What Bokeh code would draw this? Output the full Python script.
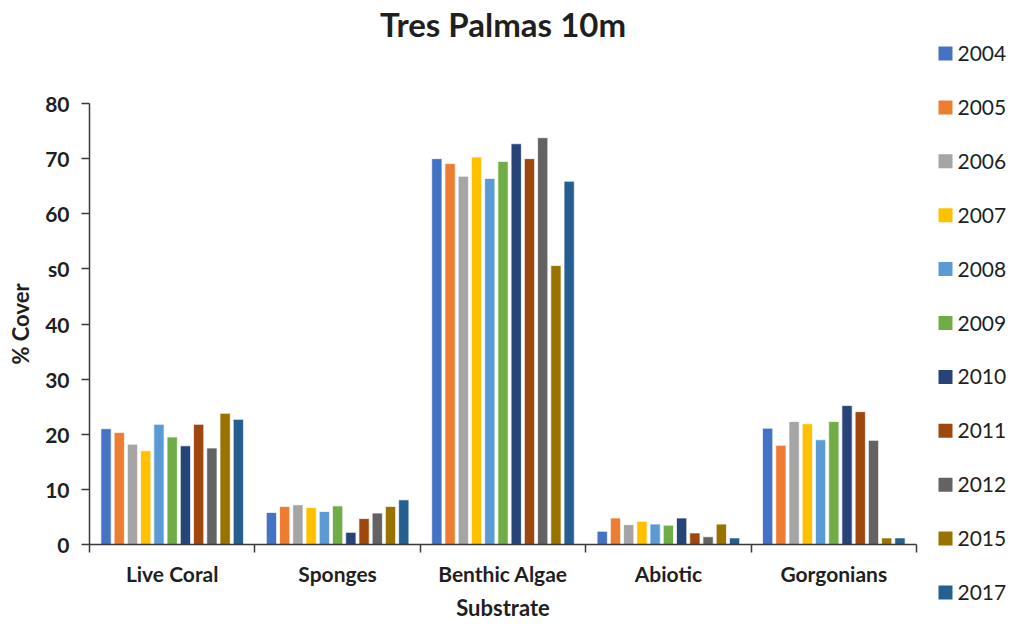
from bokeh.plotting import figure
from bokeh.models import Range1d, FixedTicker, ColumnDataSource, LinearAxis
from bokeh.layouts import row
from bokeh.embed import file_html
from bokeh.resources import INLINE
from bokeh.core.properties import value

categories = ["Live Coral", "Sponges", "Benthic Algae", "Abiotic", "Gorgonians"]
years = ["2004", "2005", "2006", "2007", "2008", "2009", "2010", "2011", "2012", "2015", "2017"]
colors = ["#4472C4", "#ED7D31", "#A5A5A5", "#FFC000", "#5B9BD5", "#70AD47",
          "#264478", "#9E480E", "#636363", "#997300", "#255E91"]
y_ticks = [0, 10, 20, 30, 40, 50, 60, 70, 80]
y_tick_labels = ["0", "10", "20", "30", "40", "s0", "60", "70", "80"]

v2004 = [21.0, 5.8, 70.0, 2.4, 21.1]
v2005 = [20.3, 6.9, 69.1, 4.8, 18.0]
v2006 = [18.2, 7.2, 66.8, 3.6, 22.3]
v2007 = [17.0, 6.7, 70.3, 4.2, 21.9]
v2008 = [21.8, 6.0, 66.4, 3.7, 19.0]
v2009 = [19.5, 7.0, 69.5, 3.5, 22.3]
v2010 = [17.9, 2.2, 72.7, 4.8, 25.2]
v2011 = [21.8, 4.7, 70.0, 2.1, 24.1]
v2012 = [17.5, 5.7, 73.8, 1.4, 18.9]
v2015 = [23.8, 6.9, 50.6, 3.7, 1.2]
v2017 = [22.7, 8.1, 65.9, 1.2, 1.2]
series = [v2004, v2005, v2006, v2007, v2008, v2009, v2010, v2011, v2012, v2015, v2017]

FONT = "Lato"
TXT = "#1f1f1f"
AX = "#3a3a3a"

n_cat = len(categories)
n_ser = len(series)
pitch = 0.08
bar_w = 0.062
H = 623

p = figure(width=918, height=H, x_range=Range1d(-0.5, n_cat - 0.5), y_range=Range1d(0, 80),
           output_backend="svg", toolbar_location=None,
           min_border_left=89, min_border_right=2, min_border_top=101, min_border_bottom=70)

xax = p.xaxis[0]
yax = p.yaxis[0]

for j, (yr, col, vals) in enumerate(zip(years, colors, series)):
    xs = [i + (j - (n_ser - 1) / 2) * pitch for i in range(n_cat)]
    src = ColumnDataSource(dict(x=xs, top=vals))
    p.vbar(x="x", top="top", bottom=0, width=bar_w, source=src,
           fill_color=col, line_color="white", line_width=1, line_alpha=0.7)

p.xgrid.visible = False
p.ygrid.visible = False
p.outline_line_color = None

# chart title, drawn as the label of a bare axis above the frame
title_axis = LinearAxis(ticker=FixedTicker(ticks=[]), axis_label="Tres Palmas 10m",
                        axis_line_color=None, major_tick_line_color=None, minor_tick_line_color=None,
                        major_tick_out=0, major_tick_in=0, minor_tick_out=0, minor_tick_in=0,
                        major_label_standoff=0, axis_label_standoff=60,
                        axis_label_text_font=FONT, axis_label_text_font_size="33px",
                        axis_label_text_line_height=1.0,
                        axis_label_text_font_style="bold", axis_label_text_color=TXT)
p.add_layout(title_axis, "above")

# y axis
yax.ticker = FixedTicker(ticks=y_ticks, minor_ticks=[])
yax.major_label_overrides = {t: l for t, l in zip(y_ticks, y_tick_labels)}
yax.axis_label = "% Cover"
yax.axis_label_text_font = FONT
yax.axis_label_text_font_size = "22px"
yax.axis_label_text_font_style = "bold"
yax.axis_label_text_color = TXT
yax.axis_label_standoff = 8
yax.major_label_text_font = FONT
yax.major_label_text_font_size = "21px"
yax.major_label_text_font_style = "bold"
yax.major_label_text_color = TXT
yax.major_label_standoff = 12
yax.major_tick_out = 8
yax.major_tick_in = 0
yax.major_tick_line_color = AX
yax.major_tick_line_width = 1.5
yax.axis_line_color = AX
yax.axis_line_width = 1.5

# x axis
xax.ticker = FixedTicker(ticks=list(range(n_cat)),
                         minor_ticks=[i - 0.5 for i in range(n_cat + 1)])
xax.major_label_overrides = {i: c for i, c in enumerate(categories)}
xax.axis_label = "Substrate"
xax.axis_label_text_font = FONT
xax.axis_label_text_font_size = "22px"
xax.axis_label_text_font_style = "bold"
xax.axis_label_text_color = TXT
xax.axis_label_text_line_height = 1.0
xax.axis_label_standoff = 5
xax.major_label_text_font = FONT
xax.major_label_text_font_size = "21px"
xax.major_label_text_font_style = "bold"
xax.major_label_text_color = TXT
xax.major_label_text_line_height = 1.0
xax.major_label_standoff = 8
xax.major_tick_out = 0
xax.major_tick_in = 0
xax.minor_tick_out = 8
xax.minor_tick_in = 0
xax.minor_tick_line_color = AX
xax.minor_tick_line_width = 1.5
xax.axis_line_color = AX
xax.axis_line_width = 1.5

# legend panel: a separate, axis-less figure to the right
LW = 90
step = 53.9
first = 53
lg = figure(width=LW, height=H, x_range=Range1d(0, LW),
            y_range=Range1d(start=(H - first) / step, end=-first / step),
            output_backend="svg", toolbar_location=None,
            x_axis_location=None, y_axis_location=None,
            min_border_left=0, min_border_right=0, min_border_top=0, min_border_bottom=0)
lg.outline_line_color = None
lg.grid.visible = False
for fig in (p, lg):
    if hasattr(fig, "frame_align"):
        fig.frame_align = False
lsrc = ColumnDataSource(dict(y=list(range(len(years))), year=years, color=colors))
lg.scatter(x=27, y="y", size=14, marker="square", fill_color="color", line_color=None, source=lsrc)
lg.text(x=39, y="y", text="year", source=lsrc, text_font=value(FONT), text_font_size="21px",
        text_baseline="middle", text_align="left", text_color=TXT)

layout = row(p, lg)
open("out.html", "w").write(file_html(layout, INLINE))
